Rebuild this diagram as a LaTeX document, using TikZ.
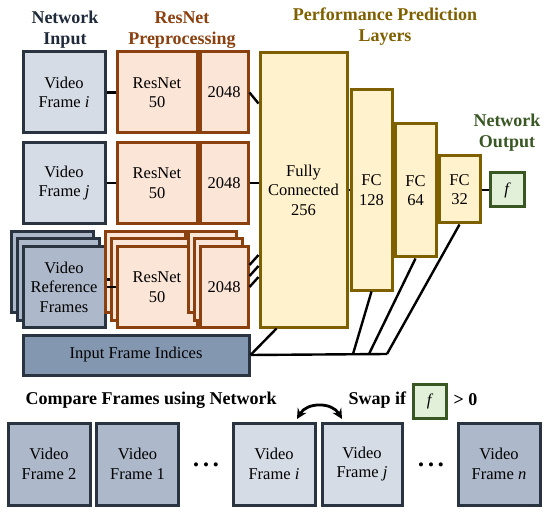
\documentclass[tikz,border=0pt]{standalone}
\usepackage{fontspec}
\setmainfont{Liberation Serif}
\usetikzlibrary{calc,arrows.meta}

\definecolor{frameline}{HTML}{2A3340}
\definecolor{framelight}{HTML}{D6DCE5}
\definecolor{framemid}{HTML}{ADB9CA}
\definecolor{framedark}{HTML}{8497B0}
\definecolor{resline}{HTML}{8B4010}
\definecolor{resfill}{HTML}{FBE5D6}
\definecolor{fcline}{HTML}{7F6000}
\definecolor{fcfill}{HTML}{FFF2CC}
\definecolor{outline}{HTML}{385723}
\definecolor{outfill}{HTML}{E2F0D9}
\definecolor{inputtitle}{HTML}{1F2A3A}

\tikzset{
  box/.style={draw, line width=3pt, inner sep=0pt, align=center,
    font=\fontsize{16.5}{19.5}\selectfont},
  vframe/.style={box, draw=frameline, fill=framelight, minimum width=82pt, minimum height=81pt},
  refframe/.style={vframe, fill=framemid},
  resbox/.style={box, draw=resline, fill=resfill, minimum width=80pt, minimum height=81pt},
  featbox/.style={resbox, minimum width=48pt},
  fcbox/.style={box, draw=fcline, fill=fcfill, minimum width=41pt},
  outbox/.style={box, draw=outline, fill=outfill, minimum width=34pt, minimum height=34pt},
  title/.style={align=center, font=\bfseries\fontsize{18}{21}\selectfont},
  conn/.style={line width=2.4pt},
  dotrow/.style={font=\fontsize{17}{17}\selectfont},
}

\begin{document}
\begin{tikzpicture}[x=1pt, y=-1pt]
  \useasboundingbox (0,0) rectangle (549,513);

  % titles
  \node[title, inputtitle] (tin) at (65,30) {Network\\Input};
  \node[title, resline] (tres) at (182,30) {ResNet\\Preprocessing};
  \node[title, fcline] (tfc) at (385,27) {Performance Prediction\\Layers};
  \node[title, outline] (tout) at (507,133) {Network\\Output};

  % frame i
  \node[vframe] (fi) at (64,92.5) {Video\\Frame \textit{i}};
  \node[resbox] (rn1) at (157,92.5) {ResNet\\50};
  \node[featbox] (d1) at (224,92.5) {2048};

  % frame j
  \node[vframe] (fj) at (64,183) {Video\\Frame \textit{j}};
  \node[resbox] (rn2) at (157,183) {ResNet\\50};
  \node[featbox] (d2) at (224,183) {2048};

  % reference frames (stacked)
  \node[refframe] (frc) at (52,272) {};
  \node[refframe] (frb) at (58,279.5) {};
  \node[refframe] (fr) at (64,287) {Video\\Reference\\Frames};
  \node[resbox] (rn3c) at (145,272) {};
  \node[resbox] (rn3b) at (151,279.5) {};
  \node[resbox] (rn3) at (157,287) {ResNet\\50};
  \node[featbox] (d3c) at (212,272) {};
  \node[featbox] (d3b) at (218,279.5) {};
  \node[featbox] (d3) at (224,287) {2048};

  % indices
  \node[box, draw=frameline, fill=framedark, minimum width=226pt, minimum height=40pt] (ifi) at (136,355) {Input Frame Indices};

  % prediction layers
  \node[fcbox, minimum width=87pt, minimum height=274pt] (fc256) at (303.5,190) {Fully\\Connected\\256};
  \node[fcbox, minimum height=200pt] (fc128) at (371.5,190) {FC\\128};
  \node[fcbox, minimum height=133pt] (fc64) at (415.5,190.5) {FC\\64};
  \node[fcbox, minimum height=67pt] (fc32) at (459.5,189.5) {FC\\32};
  \node[outbox] (fout) at (507.5,190) {\textit{f}};

  % connectors
  \draw[conn] (fi) -- (rn1);
  \draw[conn] (rn1) -- (d1);
  \draw[conn] (d1.east) -- ($(d1.east -| fc256.west)+(0,11)$);
  \draw[conn] (fj) -- (rn2);
  \draw[conn] (rn2) -- (d2);
  \draw[conn] (d2.east) -- (d2.east -| fc256.west);
  \draw[conn] (fr.east |- rn3b.west) -- (rn3b.west);
  \draw[conn] (fr.east) -- (rn3.west);
  \draw[conn] (rn3) -- (d3);
  \draw[conn] (d3.east) -- ($(d3.east -| fc256.west)+(0,-10)$);
  \draw[conn] ($(d3.east)+(0,-11)$) -- ($(d3.east -| fc256.west)+(0,-21)$);
  \draw[conn] ($(d3.east)+(0,-22)$) -- ($(d3.east -| fc256.west)+(0,-32)$);
  \draw[conn] (fc256.east) -- (fc128.west);
  \draw[conn] (fc128.east) -- (fc64.west |- fc128.east);
  \draw[conn] (fc64.east |- fc128.east) -- (fc32.west |- fc128.east);
  \draw[conn] (fc32.east |- fout.west) -- (fout.west);

  % index bus
  \coordinate (b128) at (353,354);
  \coordinate (b64) at (369,354);
  \coordinate (b32) at (387,354);
  \draw[conn] (ifi.east) -- (b32);
  \draw[conn] (ifi.east) -- ($(fc256.south west)!0.2!(fc256.south east)$);
  \draw[conn] (b128) -- (fc128.south);
  \draw[conn] (b64) -- (fc64.south);
  \draw[conn] (b32) -- (fc32.south);

  % sorting row
  \node[title, anchor=west] (tcmp) at (22,400) {Compare Frames using Network};
  \node[title, anchor=west] (tswap) at (345,400) {Swap if};
  \node[outbox, minimum width=33pt] (fsw) at (430,401) {\textit{f}};
  \node[title, anchor=west] (tgt) at (450,400) {> 0};

  \node[refframe, minimum height=82pt] (b2) at (49,464) {Video\\Frame 2};
  \node[refframe, minimum height=82pt] (b1) at (137.5,464) {Video\\Frame 1};
  \node[dotrow] (dots1) at (206,467) {\textbullet\hspace{4pt}\textbullet\hspace{4pt}\textbullet};
  \node[vframe, minimum height=82pt] (bi) at (274,464) {Video\\Frame \textit{i}};
  \node[vframe, minimum width=80pt, minimum height=82pt] (bj) at (362,464) {Video\\Frame \textit{j}};
  \node[dotrow] (dots2) at (431,467) {\textbullet\hspace{4pt}\textbullet\hspace{4pt}\textbullet};
  \node[refframe, minimum height=82pt] (bn) at (499,464) {Video\\Frame \textit{n}};

  % swap arrow
  \coordinate (swapL) at (297,419);
  \coordinate (swapR) at (342,419);
  \draw[line width=2.8pt, {Stealth[length=10pt,width=10pt]}-{Stealth[length=10pt,width=10pt]}]
    (swapL) .. controls ($(swapL)+(10,-17)$) and ($(swapR)+(-10,-17)$) .. (swapR);
\end{tikzpicture}
\end{document}
